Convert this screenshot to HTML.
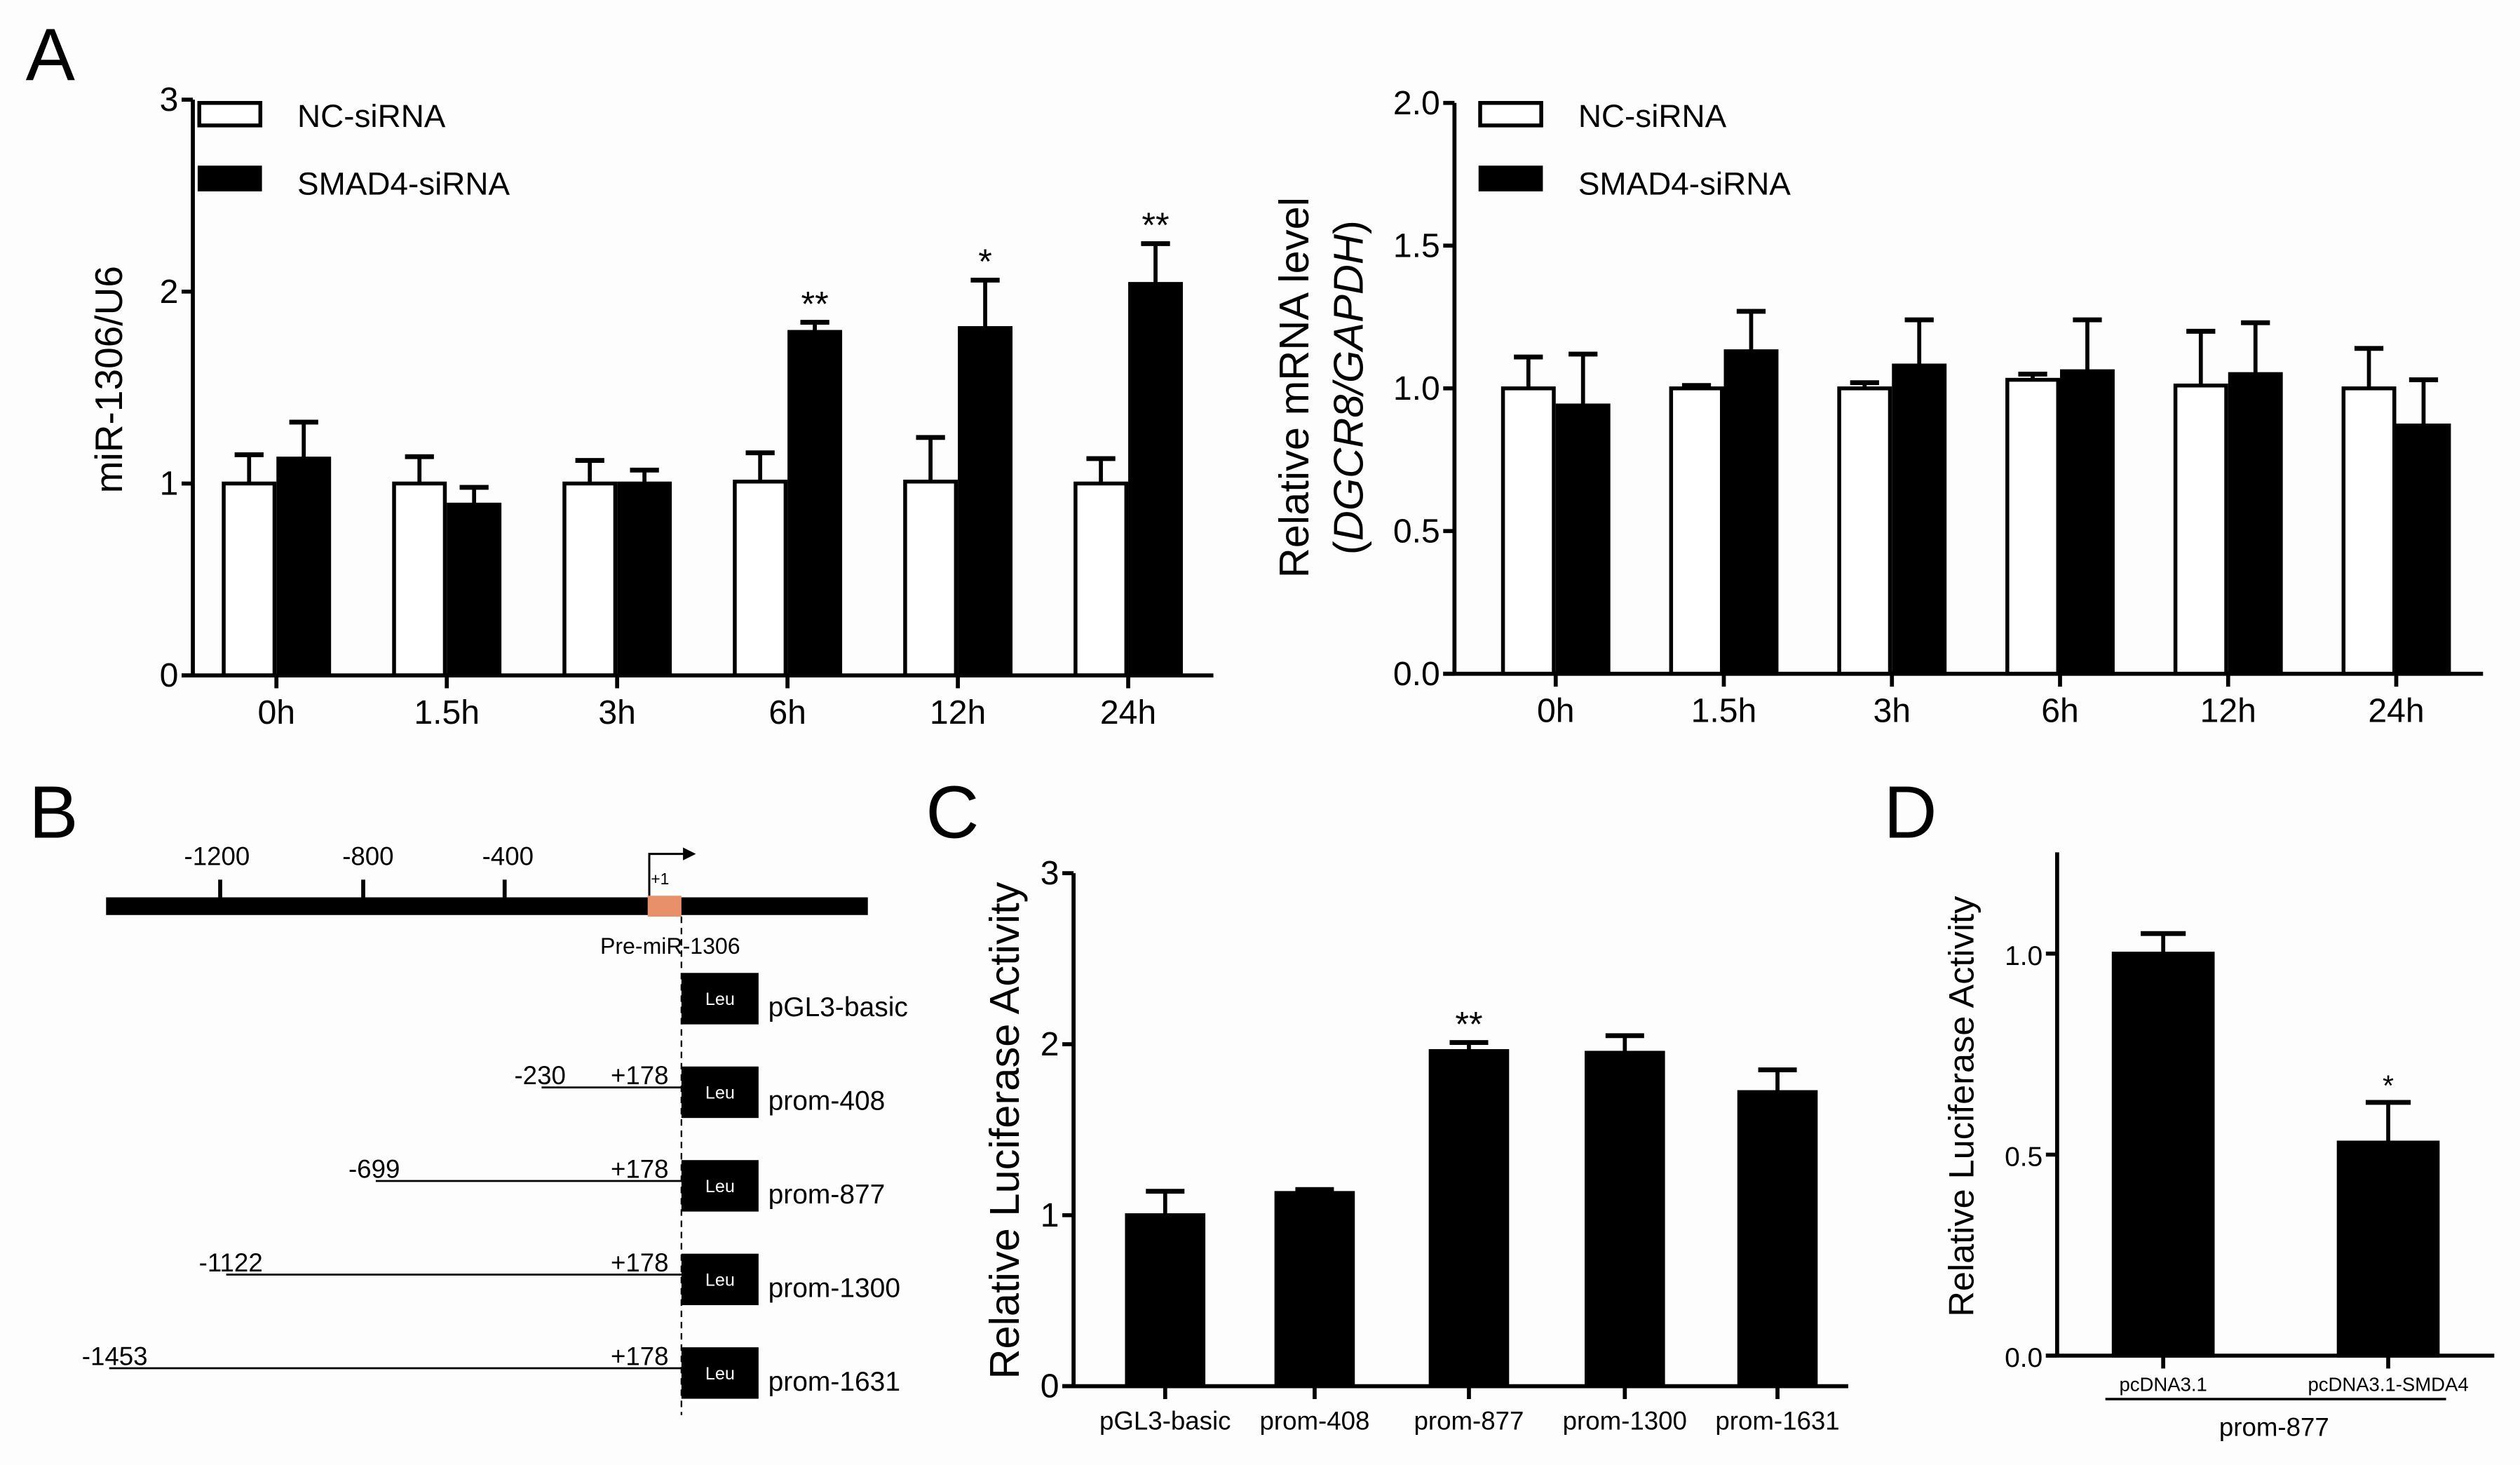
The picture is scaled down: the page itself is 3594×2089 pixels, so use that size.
<!DOCTYPE html>
<html><head><meta charset="utf-8"><style>
html,body{margin:0;padding:0;background:#fdfdfd;}
svg{display:block;font-family:"Liberation Sans",sans-serif;}
</style></head><body>
<svg id="fig" width="3594" height="2089" viewBox="0 0 1568 911" preserveAspectRatio="none" xmlns="http://www.w3.org/2000/svg">
<rect width="1568" height="911" fill="#fdfdfd"/>
<text x="16" y="50" font-size="46">A</text>
<text x="18" y="521" font-size="46">B</text>
<text x="576" y="521" font-size="46">C</text>
<text x="1172" y="521" font-size="46">D</text>

<g font-size="16">
<rect x="66" y="558" width="474" height="11" fill="#000"/>
<line x1="137" y1="547" x2="137" y2="558" stroke="#000" stroke-width="2.5"/>
<line x1="226" y1="547" x2="226" y2="558" stroke="#000" stroke-width="2.5"/>
<line x1="314" y1="547" x2="314" y2="558" stroke="#000" stroke-width="2.5"/>
<text x="135" y="538" text-anchor="middle">-1200</text>
<text x="229" y="538" text-anchor="middle">-800</text>
<text x="316" y="538" text-anchor="middle">-400</text>
<rect x="403" y="557" width="21" height="13" fill="#e8906a"/>
<path d="M404 557 V531 H426" fill="none" stroke="#000" stroke-width="1.3"/>
<path d="M425 527 L433 531 L425 535 Z" fill="#000"/>
<text x="405" y="550" font-size="10">+1</text>
<text x="417" y="593" font-size="14" text-anchor="middle">Pre-miR-1306</text>
<line x1="424" y1="570" x2="424" y2="880" stroke="#000" stroke-width="1" stroke-dasharray="4,3"/>
<g id="constructs"></g>
</g>

<g id="chartA1"></g>
<g id="chartA2"></g>
<g id="chartC"></g>
<g id="chartD"></g>
</svg>
<script>
const timeCats = ["0h","1.5h","3h","6h","12h","24h"];
const mirNC = [1.0,1.0,1.0,1.01,1.01,1.0];
const mirNCerr = [0.15,0.14,0.12,0.15,0.23,0.13];
const mirSI = [1.13,0.89,1.0,1.79,1.81,2.04];
const mirSIerr = [0.19,0.09,0.07,0.05,0.25,0.21];
const mirSig = ["","","","**","*","**"];
const mirTicks = ["0","1","2","3"];
const dgNC = [1.0,1.0,1.0,1.03,1.01,1.0];
const dgNCerr = [0.11,0.01,0.02,0.02,0.19,0.14];
const dgSI = [0.94,1.13,1.08,1.06,1.05,0.87];
const dgSIerr = [0.18,0.14,0.16,0.18,0.18,0.16];
const dgTicks = ["0.0","0.5","1.0","1.5","2.0"];
const lucCats = ["pGL3-basic","prom-408","prom-877","prom-1300","prom-1631"];
const lucVals = [1.0,1.13,1.96,1.95,1.72];
const lucErr = [0.14,0.02,0.05,0.1,0.13];
const lucSig = ["","","**","",""];
const lucTicks = ["0","1","2","3"];
const dCats = ["pcDNA3.1","pcDNA3.1-SMDA4"];
const dVals = [1.0,0.53];
const dErr = [0.05,0.1];
const dSig = ["","*"];
const dTicks = ["0.0","0.5","1.0"];
const constructNames = ["pGL3-basic","prom-408","prom-877","prom-1300","prom-1631"];
const constructStart = [null,-230,-699,-1122,-1453];

const NS="http://www.w3.org/2000/svg";
function mk(parent,tag,attrs,text){const e=document.createElementNS(NS,tag);for(const k in attrs)e.setAttribute(k,attrs[k]);if(text!==undefined)e.textContent=text;parent.appendChild(e);return e;}

function barChart(g,o){
  const y=v=>o.y0-(v-o.vmin)/(o.vmax-o.vmin)*(o.y0-o.yTop);
  o.series.forEach((s,si)=>{
    s.vals.forEach((v,i)=>{
      const cx=o.xc[i]+(o.series.length>1?(si===0?-o.bw/2:o.bw/2):0);
      const top=y(v), et=y(v+s.err[i]);
      const eb=mk(g,'line',{x1:cx,x2:cx,y1:top,y2:et,stroke:'#000','stroke-width':2.5});
      
      
      const cap=mk(g,'line',{x1:cx-o.cap,x2:cx+o.cap,y1:et,y2:et,stroke:'#000','stroke-width':3});
      
      
      const r=mk(g,'rect',{x:cx-o.bw/2+1.2,y:top,width:o.bw-2.4,height:o.y0-top,fill:s.fill,stroke:'#000','stroke-width':2.4});
      
      
      if(s.sig&&s.sig[i]){const t=mk(g,'text',{x:cx,y:et-4,'text-anchor':'middle','font-size':o.sigSize||22},s.sig[i]);
        
        }
    });
  });
  const ya=mk(g,'line',{x1:o.x0,x2:o.x0,y1:o.yAxisTop||o.yTop,y2:o.y0+1,stroke:'#000','stroke-width':2.5});
  
  
  const xa=mk(g,'line',{x1:o.x0-7,x2:o.x1,y1:o.y0,y2:o.y0,stroke:'#000','stroke-width':2.5});
  
  
  o.ticks.forEach(t=>{const v=parseFloat(t),yy=y(v);
    mk(g,'line',{x1:o.x0-7,x2:o.x0,y1:yy,y2:yy,stroke:'#000','stroke-width':2.5});
    const tl=mk(g,'text',{x:o.x0-9,y:yy+7,'text-anchor':'end','font-size':o.tickSize},t);
    
    });
  o.cats.forEach((c,i)=>{
    mk(g,'line',{x1:o.xc[i],x2:o.xc[i],y1:o.y0,y2:o.y0+8,stroke:'#000','stroke-width':2.5});
    const t=mk(g,'text',{x:o.xc[i],y:o.y0+o.catDy,'text-anchor':'middle','font-size':o.catSize},c);
    
    });
}
function spaced(start,step,n){const a=[];for(let i=0;i<n;i++)a.push(start+step*i);return a;}

const gA1=document.getElementById('chartA1');


barChart(gA1,{x0:120,x1:755,y0:420,yTop:62,vmin:0,vmax:3,xc:spaced(172,106,6),bw:34,cap:9,cats:timeCats,ticks:mirTicks,tickSize:21,catSize:21,catDy:30,
 series:[{name:'nc',vals:mirNC,err:mirNCerr,fill:'#fff'},{name:'smad4',vals:mirSI,err:mirSIerr,fill:'#000',sig:mirSig}]});
mk(gA1,'text',{x:0,y:0,transform:'translate(76,236) rotate(-90)','text-anchor':'middle','font-size':24},'miR-1306/U6');
const gA2=document.getElementById('chartA2');


barChart(gA2,{x0:905,x1:1545,y0:419,yTop:64,vmin:0,vmax:2,xc:spaced(968,104.6,6),bw:34,cap:9,cats:timeCats,ticks:dgTicks,tickSize:21,catSize:21,catDy:30,
 series:[{name:'nc',vals:dgNC,err:dgNCerr,fill:'#fff'},{name:'smad4',vals:dgSI,err:dgSIerr,fill:'#000'}]});
mk(gA2,'text',{x:0,y:0,transform:'translate(814,241) rotate(-90)','text-anchor':'middle','font-size':26},'Relative mRNA level');
const it=mk(gA2,'text',{x:0,y:0,transform:'translate(848,241) rotate(-90)','text-anchor':'middle','font-size':26});
it.innerHTML='(<tspan font-style="italic">DGCR8/GAPDH</tspan>)';
[[gA1,123,185],[gA2,920,982]].forEach(([g,bx,tx])=>{
  const l=mk(g,'g',{});
  
  
  mk(l,'rect',{x:bx+1,y:64,width:38,height:14,fill:'#fff',stroke:'#000','stroke-width':2.4});
  mk(l,'text',{x:tx,y:79,'font-size':20},'NC-siRNA');
  mk(l,'rect',{x:bx,y:103,width:40,height:16,fill:'#000'});
  mk(l,'text',{x:tx,y:121,'font-size':20},'SMAD4-siRNA');
});
const gC=document.getElementById('chartC');


barChart(gC,{x0:668,x1:1150,y0:862,yTop:543,vmin:0,vmax:3,xc:[725,818,914,1011,1106],bw:50,cap:12,cats:lucCats,ticks:lucTicks,tickSize:21,catSize:16,catDy:27,
 series:[{name:'luc',vals:lucVals,err:lucErr,fill:'#000',sig:lucSig}]});
mk(gC,'text',{x:0,y:0,transform:'translate(634,703) rotate(-90)','text-anchor':'middle','font-size':26},'Relative Luciferase Activity');
const gD=document.getElementById('chartD');


barChart(gD,{x0:1280,x1:1552,y0:843,yTop:593,yAxisTop:530,vmin:0,vmax:1,xc:[1346,1486],bw:64,cap:14,cats:dCats,ticks:dTicks,tickSize:17,catSize:12,catDy:22,sigSize:18,
 series:[{name:'d',vals:dVals,err:dErr,fill:'#000',sig:dSig}]});
mk(gD,'text',{x:0,y:0,transform:'translate(1228,688) rotate(-90)','text-anchor':'middle','font-size':22},'Relative Luciferase Activity');
mk(gD,'line',{x1:1310,x2:1522,y1:870,y2:870,stroke:'#000','stroke-width':1.5});
mk(gD,'text',{x:1415,y:893,'text-anchor':'middle','font-size':16},'prom-877');

const gc=document.getElementById('constructs');
const bpX=v=>387.6+v*0.22;
constructNames.forEach((n,i)=>{
  const top=605+i*58.2;
  const g=mk(gc,'g',{});
  
  
  mk(g,'rect',{x:424,y:top,width:48,height:32,fill:'#000'});
  mk(g,'text',{x:448,y:top+20,'text-anchor':'middle','font-size':11,fill:'#fff'},'Leu');
  mk(g,'text',{x:478,y:top+27,'font-size':17},n);
  const s=constructStart[i];
  if(s!==null){
    const ly=top+13, sx=bpX(s);
    mk(g,'line',{x1:sx,x2:424,y1:ly,y2:ly,stroke:'#000','stroke-width':1.2});
    mk(g,'text',{x:sx-17,y:ly-2,'font-size':16},String(s));
    mk(g,'text',{x:380,y:ly-2,'font-size':16},'+178');
  }
});
</script>
</body></html>
